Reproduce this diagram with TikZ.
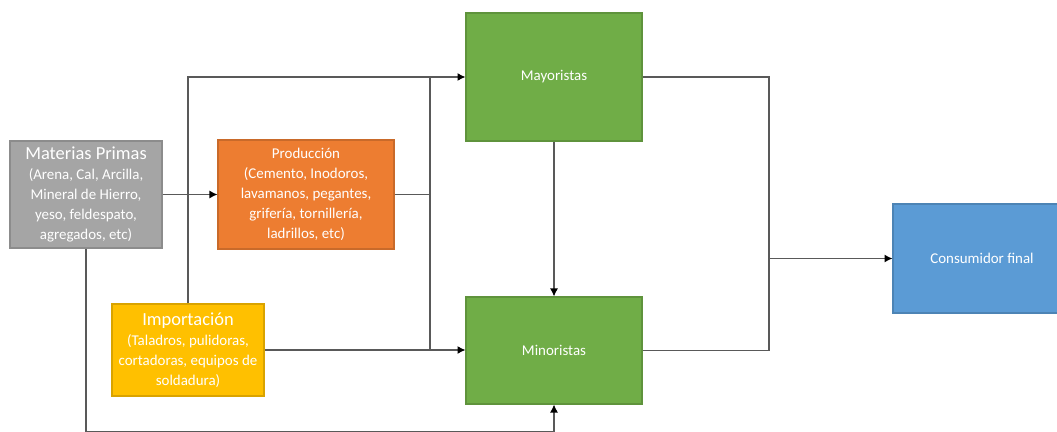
\documentclass[tikz,border=0pt]{standalone}
\usepackage{fontspec}
\setmainfont{Carlito}
\usetikzlibrary{arrows.meta}
\definecolor{gris}{HTML}{A5A5A5}
\definecolor{naranja}{HTML}{ED7D31}
\definecolor{amarillo}{HTML}{FFC000}
\definecolor{verde}{HTML}{70AD47}
\definecolor{azul}{HTML}{5B9BD5}
\definecolor{linea}{HTML}{595959}
\begin{document}
\begin{tikzpicture}[x=0.02cm,y=-0.02cm,
    caja/.style={draw=#1!85!black,fill=#1,text=white,align=center,inner sep=2pt,
      line width=0.7pt,font=\fontsize{8.5}{11.3}\selectfont},
    flecha/.style={draw=linea,line width=0.6pt,-{Latex[length=4.5pt,width=4.5pt,black]}},
    conector/.style={draw=linea,line width=0.6pt}]
    \useasboundingbox (0,0) rectangle (1057,432);
    \clip (0,0) rectangle (1057,432);
    \node[caja=gris,minimum width=3.04cm,minimum height=2.14cm] (materias) at (86,194.5)
        {{\fontsize{10.5}{13}\selectfont Materias Primas}\\(Arena, Cal, Arcilla,\\Mineral de Hierro,\\yeso, feldespato,\\agregados, etc)};
    \node[caja=naranja,minimum width=3.52cm,minimum height=2.18cm] (produccion) at (306,194.5)
        {Producción\\(Cemento, Inodoros,\\lavamanos, pegantes,\\grifería, tornillería,\\ladrillos, etc)};
    \node[caja=amarillo,minimum width=3.04cm,minimum height=1.84cm] (importacion) at (188,350)
        {{\fontsize{10.5}{13}\selectfont Importación}\\(Taladros, pulidoras,\\cortadoras, equipos de\\soldadura)};
    \node[caja=verde,minimum width=3.52cm,minimum height=2.56cm] (mayoristas) at (554,77) {Mayoristas};
    \node[caja=verde,minimum width=3.52cm,minimum height=2.14cm] (minoristas) at (554,350.5) {Minoristas};
    \node[caja=azul,minimum width=3.56cm,minimum height=2.18cm] (consumidor) at (982,258.5) {Consumidor final};
    \coordinate (nudo) at (430,194.5);
    \coordinate (reparto) at (769,258.5);
    \draw[flecha] (materias) -- (produccion);
    \draw[flecha] (importacion.north) |- (mayoristas.west);
    \draw[conector] (produccion.east) -- (nudo);
    \draw[conector] (nudo |- mayoristas.west) -- (nudo |- minoristas.west);
    \draw[flecha] (importacion.east) -- (importacion.east -| minoristas.west);
    \draw[flecha] (materias.south) -- ++(0,182.5) -| (minoristas.south);
    \draw[flecha] (mayoristas) -- (minoristas);
    \draw[conector] (mayoristas.east) -| (reparto) |- (minoristas.east);
    \draw[flecha] (reparto) -- (consumidor);
\end{tikzpicture}
\end{document}
